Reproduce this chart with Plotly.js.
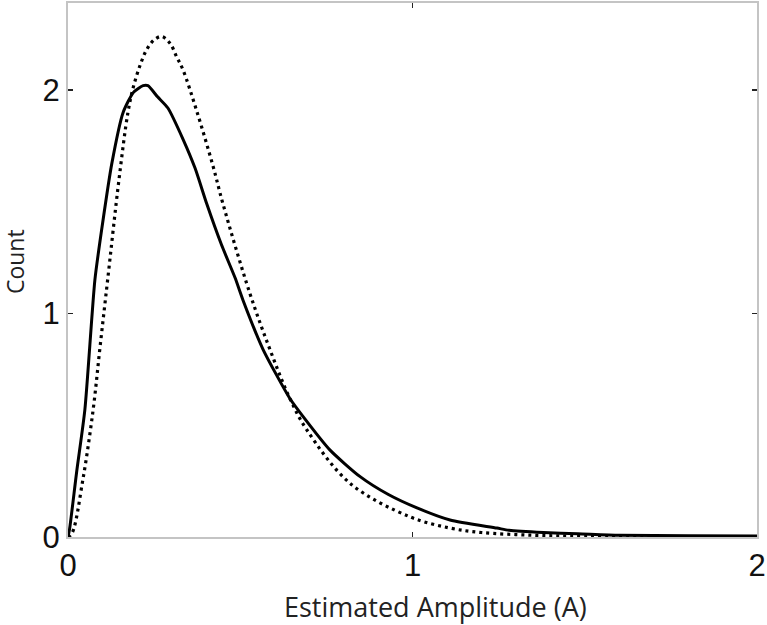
<!DOCTYPE html>
<html>
<head>
<meta charset="utf-8">
<script src="https://cdn.plot.ly/plotly-3.0.1.min.js"></script>
<style>
  body { margin: 0; background: #fff; }
  #chart { width: 767px; height: 625px; }
</style>
</head>
<body>
<div id="chart"></div>
<script>
var measX = [0, 0.005, 0.025, 0.049, 0.078, 0.10, 0.127, 0.16, 0.19, 0.218, 0.232, 0.26, 0.29, 0.334, 0.369,
  0.403, 0.445, 0.485, 0.508, 0.566, 0.644, 0.682, 0.76, 0.848, 0.93, 1.013, 1.109, 1.245, 1.28, 1.38, 1.48, 1.6, 1.8, 2.0];
var measY = [0, 0.04, 0.29, 0.57, 1.15, 1.40, 1.67, 1.90, 1.99, 2.02, 2.02, 1.97, 1.92, 1.78, 1.65,
  1.49, 1.31, 1.16, 1.06, 0.84, 0.62, 0.54, 0.39, 0.27, 0.19, 0.13, 0.076, 0.04, 0.03, 0.02, 0.015, 0.008, 0.006, 0.005];

// model curve (dotted)
var modelX = [0, 0.012, 0.043, 0.073, 0.093, 0.115, 0.148, 0.174, 0.189, 0.209, 0.228, 0.25, 0.272, 0.296, 0.315, 0.334,
  0.373, 0.421, 0.45, 0.528, 0.586, 0.644, 0.693, 0.819, 0.993, 1.109, 1.2, 1.35, 1.5, 1.75, 2.0];
var modelY = [0, 0.018, 0.255, 0.57, 0.85, 1.15, 1.60, 1.90, 2.01, 2.11, 2.18, 2.225, 2.24, 2.21, 2.15, 2.09,
  1.91, 1.66, 1.49, 1.09, 0.84, 0.62, 0.48, 0.24, 0.09, 0.04, 0.02, 0.008, 0.003, 0.001, 0];

var xTicks = [0, 1, 2];
var yTicks = [0, 1, 2];

var data = [
  {x: modelX, y: modelY, mode: "lines", line: {color: "#000", width: 3.2, dash: "3px,4px", shape: "spline"}},
  {x: measX, y: measY, mode: "lines", line: {color: "#000", width: 3, shape: "spline", smoothing: 0.6}}
];

var axisStyle = {
  showgrid: false, zeroline: false,
  showline: true, linecolor: "#c4c4c4", linewidth: 2, mirror: "ticks",
  ticks: "inside", ticklen: 5, tickwidth: 1.5, tickcolor: "#222",
  tickfont: {family: "Liberation Sans, Arial, sans-serif", size: 31, color: "#111"}
};

var titleFont = {family: "Open Sans, sans-serif", color: "#222"};

var layout = {
  width: 767, height: 625,
  margin: {l: 68, r: 10, t: 3, b: 88},
  showlegend: false,
  paper_bgcolor: "#fff", plot_bgcolor: "#fff",
  xaxis: Object.assign({}, axisStyle, {range: [0, 2], tickvals: xTicks, ticktext: xTicks.map(String)}),
  yaxis: Object.assign({}, axisStyle, {range: [0, 2.39], tickvals: yTicks, ticktext: yTicks.map(String)}),
  // axis titles sit a bit off-centre in the original, so they are placed as annotations
  annotations: [
    {text: "Estimated Amplitude (A)", xref: "paper", yref: "paper", x: 0.533, y: -0.131,
      xanchor: "center", yanchor: "middle", showarrow: false,
      font: Object.assign({size: 27}, titleFont)},
    {text: "Count", xref: "paper", yref: "paper", x: -0.076, y: 0.516, textangle: -90,
      xanchor: "center", yanchor: "middle", showarrow: false,
      font: Object.assign({size: 23}, titleFont)}
  ]
};

Plotly.newPlot("chart", data, layout, {displayModeBar: false, staticPlot: true});
</script>
</body>
</html>
